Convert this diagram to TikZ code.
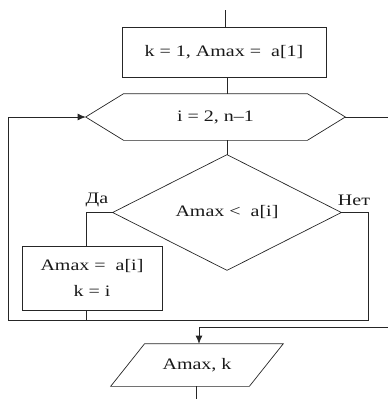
\documentclass[tikz,border=0pt]{standalone}
\usepackage{fontspec}
\setmainfont{Liberation Serif}[FakeStretch=1.25]
\usetikzlibrary{calc,arrows.meta}
\begin{document}
\begin{tikzpicture}[x=1pt,y=-1pt,
  line width=0.7pt,
  color=black!85,
  lbl/.style={font=\fontsize{16}{26}\selectfont, inner sep=0pt, text=black!90},
  box/.style={lbl, draw, rectangle, align=center},
  arr/.style={-{Latex[length=8pt,width=7pt]}}]
\useasboundingbox (0,0) rectangle (388,399);

% nodes
\node[box, minimum width=204pt, minimum height=50pt] (init) at (224,52) {k = 1, Amax =\ \ a[1]};
\node[lbl, minimum width=259pt, minimum height=46pt] (hex) at (215.5,117) {i = 2, n\textendash1};
\node[lbl, minimum width=228pt, minimum height=115pt] (cond) at (227,212.5) {Amax <\ \ a[i]};
\node[box, minimum width=140pt, minimum height=64pt] (upd) at (92,278) {Amax =\ \ a[i]\\k = i};
\node[lbl, minimum width=138pt, minimum height=42pt] (out) at (197,365) {Amax, k};
\node[lbl] (da) at (97,200) {Да};
\node[lbl] (net) at (354,200) {Нет};

% outlines
\draw (hex.west) -- ($(hex.north west)+(38,0)$) -- ($(hex.north east)+(-38,0)$)
      -- (hex.east) -- ($(hex.south east)+(-38,0)$) -- ($(hex.south west)+(38,0)$) -- cycle;
\draw (cond.north) -- (cond.east) -- (cond.south) -- (cond.west) -- cycle;
\draw ($(out.north west)+(17,0)$) -- ($(out.north east)+(17,0)$)
      -- ($(out.south east)+(-17,0)$) -- ($(out.south west)+(-17,0)$) -- cycle;

% coordinates
\coordinate (top) at (225,10);
\coordinate (loopR) at (368,320);
\coordinate (loopL) at (8,320);
\coordinate (ub) at ([xshift=-6pt]upd.south);
\coordinate (yb) at ([xshift=-6pt]upd.north);
\coordinate (exR1) at (388,117);
\coordinate (exR2) at (388,327);
\coordinate (bot) at (196,399);

% connectors
\draw (top) -- (top |- init.north);
\draw ([xshift=3pt]init.south) -- ([xshift=3pt]init.south |- hex.north);
\draw (cond.north |- hex.south) -- (cond.north);
\draw (cond.west) -| (yb);
\draw (cond.east) -| (loopR) -- (loopL);
\draw (ub) -- (ub |- loopL);
\draw[arr] (loopL) |- (hex.west);
\draw (hex.east) -- (exR1);
\draw[arr] (exR2) -| ([xshift=2pt]out.north);
\draw (bot |- out.south) -- (bot);
\end{tikzpicture}
\end{document}
